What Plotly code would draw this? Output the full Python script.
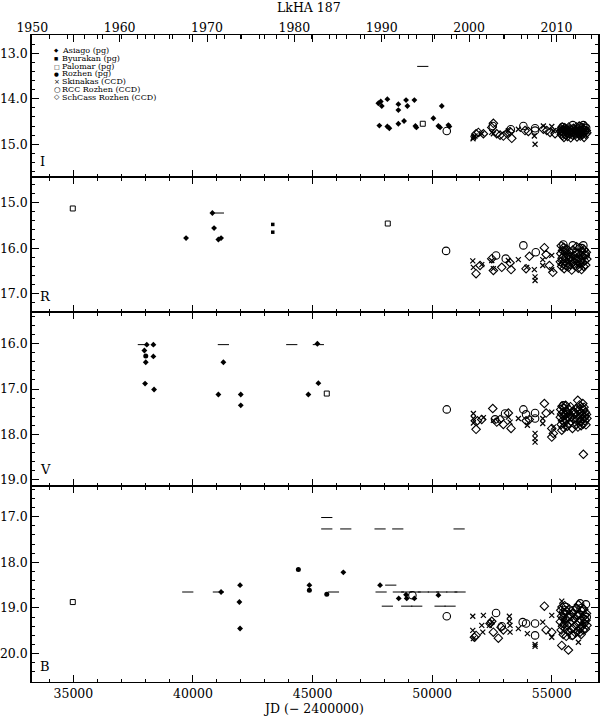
import plotly.graph_objects as go

# ---- data: (JD - 2400000, magnitude) ----

I_asiago = [(47752, 14.10), (47852, 14.06), (47894, 14.16), (48128, 14.01), (48588, 14.12),
            (48588, 14.25), (48910, 14.03), (48965, 14.16), (49258, 14.03), (50403, 14.16),
            (47794, 14.59), (48128, 14.61), (48212, 14.65), (48588, 14.55), (48826, 14.49),
            (49300, 14.60), (49342, 14.63), (50052, 14.43), (50261, 14.60), (50332, 14.63),
            (50679, 14.58), (50721, 14.61)]
I_palomar = [(49609, 14.55)]
I_skinakas = [(51724, 14.85), (51794, 14.82), (52075, 14.77), (52493, 14.74), (52560, 14.77),
              (53187, 14.70), (53605, 14.67), (54274, 14.82), (54304, 15.00), (54651, 14.60),
              (55002, 14.61), (55069, 14.70), (55420, 14.65), (55629, 14.69), (56047, 14.67),
              (56186, 14.80), (51710, 14.88), (51740, 14.84)]
I_rcc = [(50612, 14.71), (52535, 14.60), (53288, 14.67), (53815, 14.60), (54304, 14.65),
         (54304, 14.70), (55450, 14.62), (55560, 14.70), (55700, 14.66), (55880, 14.58),
         (56060, 14.72), (56186, 14.61), (56323, 14.58), (56394, 14.69), (56440, 14.64)]
I_schcass = [(51837, 14.77), (51934, 14.74), (52143, 14.77), (52493, 14.63), (52560, 14.54),
             (52702, 14.77), (52840, 14.80), (52978, 14.82), (53120, 14.76), (53258, 14.72),
             (53330, 14.87), (53885, 14.70), (54023, 14.72), (54651, 14.67), (54793, 14.70),
             (54931, 14.74), (55140, 14.77),
             (55362, 14.72), (55385, 14.66), (55401, 14.78), (55418, 14.70), (55436, 14.62),
             (55450, 14.81), (55468, 14.74), (55490, 14.68), (55512, 14.85), (55530, 14.76),
             (55547, 14.64), (55566, 14.71), (55589, 14.80), (55610, 14.67), (55634, 14.75),
             (55662, 14.83), (55690, 14.70), (55718, 14.62), (55745, 14.77), (55770, 14.72),
             (55795, 14.86), (55822, 14.68), (55850, 14.74), (55878, 14.80), (55905, 14.65),
             (55940, 14.73), (55978, 14.69), (56010, 14.78), (56035, 14.62), (56058, 14.84),
             (56082, 14.71), (56105, 14.66), (56128, 14.77), (56150, 14.60), (56172, 14.73),
             (56195, 14.82), (56218, 14.69), (56240, 14.76), (56262, 14.63), (56285, 14.79),
             (56306, 14.72), (56330, 14.67), (56352, 14.85), (56374, 14.74), (56398, 14.61),
             (56420, 14.78), (56445, 14.70), (56468, 14.75)]
I_limits = [(49609, 13.29)]

R_asiago = [(39712, 15.78), (40812, 15.23), (40883, 15.56), (41063, 15.81), (41175, 15.78)]
R_byurakan = [(43337, 15.48), (43337, 15.65)]
R_palomar = [(34975, 15.13), (48145, 15.46)]
R_skinakas = [(51699, 16.28), (51724, 16.42), (52075, 16.36), (52493, 16.27), (52560, 16.45),
              (53187, 16.27), (53605, 16.25), (53957, 16.42), (54274, 16.47), (54304, 16.63),
              (54304, 16.71), (54625, 16.25), (54625, 16.38), (55002, 16.16), (55002, 16.47),
              (55349, 16.32), (56115, 16.38)]
R_rcc = [(50583, 16.06), (52673, 16.16), (53078, 16.23), (53815, 15.94), (54333, 16.09),
         (55487, 15.92), (55550, 16.05), (55720, 16.20), (55880, 15.94), (56020, 16.10),
         (56250, 16.00), (56323, 15.94), (56420, 16.15)]
R_schcass = [(51837, 16.56), (52004, 16.38), (52493, 16.23), (52560, 16.49), (52911, 16.42),
             (53258, 16.32), (53300, 16.47), (53927, 16.45), (54065, 16.18), (54693, 15.99),
             (54765, 16.14), (54903, 16.38), (55045, 16.53),
             (55360, 16.30), (55380, 16.12), (55398, 15.95), (55415, 16.40), (55432, 16.22),
             (55450, 16.05), (55468, 16.35), (55485, 16.18), (55502, 15.98), (55520, 16.45),
             (55540, 16.28), (55560, 16.10), (55582, 16.38), (55605, 16.20), (55628, 16.02),
             (55650, 16.33), (55675, 16.15), (55700, 16.42), (55725, 16.25), (55752, 16.08),
             (55780, 16.36), (55808, 16.19), (55835, 16.48), (55860, 16.27), (55885, 16.04),
             (55910, 16.31), (55940, 16.16), (55975, 16.39), (56010, 16.23), (56040, 15.97),
             (56065, 16.29), (56090, 16.12), (56112, 16.44), (56135, 16.21), (56158, 15.99),
             (56180, 16.34), (56200, 16.14), (56222, 16.26), (56245, 16.47), (56268, 16.07),
             (56290, 16.32), (56312, 16.18), (56335, 16.40), (56356, 16.03), (56378, 16.28),
             (56400, 16.15), (56422, 16.37), (56445, 16.09), (56468, 16.24)]
R_limits = [(41063, 15.23)]

V_asiago = [(37969, 16.15), (38026, 16.41), (37998, 16.88), (38069, 16.02), (38345, 16.28),
            (38345, 16.02), (38374, 17.01), (41272, 16.41), (41063, 17.12), (41999, 17.12),
            (41999, 17.36), (45202, 16.00), (45243, 16.87), (44825, 17.12)]
V_rozhen = [(38026, 16.27)]
V_palomar = [(45595, 17.10)]
V_skinakas = [(51724, 17.54), (51724, 17.65), (51724, 17.75), (52143, 17.63), (52560, 17.69),
              (53187, 17.62), (53258, 17.73), (53605, 17.65), (53982, 17.80), (54304, 17.98),
              (54304, 18.09), (54304, 18.17), (54625, 17.65), (54625, 17.76), (55002, 17.51),
              (55069, 17.84), (56157, 17.76)]
V_rcc = [(50612, 17.45), (52631, 17.67), (53049, 17.54), (53815, 17.45), (53927, 17.56),
         (54304, 17.53), (54304, 17.65), (55487, 17.36), (55620, 17.55), (55760, 17.62),
         (55905, 17.51), (56256, 17.54), (56394, 17.60)]
V_schcass = [(51837, 17.89), (51892, 17.70), (52075, 17.67), (52535, 17.43), (52702, 17.73),
             (52840, 17.67), (52978, 17.78), (53187, 17.53), (53300, 17.87), (53927, 17.70),
             (54065, 17.67), (54693, 17.32), (54765, 17.53), (55002, 17.87), (55069, 17.98),
             (55002, 18.06), (55420, 17.91), (56090, 17.25), (56299, 17.32), (56353, 17.40),
             (56323, 18.44),
             (55360, 17.62), (55378, 17.45), (55395, 17.78), (55412, 17.55), (55430, 17.38),
             (55448, 17.70), (55465, 17.52), (55482, 17.85), (55500, 17.60), (55520, 17.42),
             (55540, 17.74), (55562, 17.58), (55585, 17.36), (55608, 17.68), (55630, 17.50),
             (55655, 17.82), (55680, 17.63), (55705, 17.44), (55730, 17.76), (55758, 17.56),
             (55785, 17.39), (55812, 17.72), (55840, 17.61), (55868, 17.87), (55895, 17.48),
             (55925, 17.66), (55960, 17.54), (55995, 17.80), (56025, 17.43), (56050, 17.69),
             (56072, 17.57), (56095, 17.84), (56118, 17.47), (56140, 17.64), (56162, 17.35),
             (56185, 17.73), (56208, 17.53), (56230, 17.81), (56252, 17.41), (56275, 17.67),
             (56298, 17.58), (56320, 17.77), (56342, 17.46), (56365, 17.62), (56388, 17.70),
             (56410, 17.51), (56432, 17.79), (56455, 17.56), (56475, 17.65)]
V_limits = [(37927, 16.02), (41272, 16.02), (44131, 16.02), (45243, 16.02)]

B_asiago = [(41175, 18.65), (41969, 18.50), (41941, 18.87), (41969, 19.45), (44867, 18.50),
            (46288, 18.22), (47823, 18.50), (48602, 18.79), (48910, 18.71), (48938, 18.79),
            (49258, 18.79), (50261, 18.72)]
B_rozhen = [(44407, 18.16), (44867, 18.61), (45595, 18.70)]
B_palomar = [(34975, 18.87)]
B_skinakas = [(51699, 19.18), (51699, 19.49), (51724, 19.67), (52143, 19.16), (52075, 19.38),
              (52117, 19.53), (52392, 19.38), (52493, 19.31), (53229, 19.18), (53229, 19.29),
              (53258, 19.38), (53258, 19.53), (53605, 19.45), (53982, 19.56), (54304, 19.80),
              (54304, 19.84), (54625, 19.31), (55002, 19.16), (55002, 19.64), (55420, 18.85),
              (55500, 19.25), (56115, 19.75), (56300, 19.35)]
B_rcc = [(49175, 18.72), (50612, 19.18), (52673, 19.11), (52911, 19.40), (53787, 19.31),
         (53927, 19.34), (54304, 19.34), (54304, 19.60), (55480, 19.10), (55560, 19.05),
         (55600, 18.98), (55750, 19.20), (55839, 19.60), (55900, 19.05), (56047, 19.01),
         (56100, 19.15), (56186, 18.90), (56250, 19.00), (56380, 19.25), (56430, 18.92),
         (56465, 19.20)]
B_schcass = [(51766, 19.64), (51837, 19.60), (52422, 19.34), (52493, 19.29), (52560, 19.53),
             (52769, 19.66), (52882, 19.42), (52978, 19.48), (54693, 18.96), (54765, 19.48),
             (55002, 19.53), (55420, 19.82), (55698, 19.92), (56186, 19.53),
             (55360, 19.30), (55378, 19.05), (55395, 19.48), (55412, 19.18), (55430, 18.98),
             (55448, 19.40), (55465, 19.22), (55482, 19.58), (55500, 19.12), (55520, 19.35),
             (55540, 18.95), (55562, 19.45), (55585, 19.25), (55608, 19.62), (55630, 19.08),
             (55655, 19.38), (55680, 19.20), (55705, 19.52), (55730, 19.02), (55758, 19.33),
             (55785, 19.15), (55812, 19.47), (55840, 19.28), (55868, 19.60), (55895, 19.10),
             (55925, 19.42), (55960, 19.24), (55995, 19.55), (56025, 19.00), (56050, 19.36),
             (56072, 19.17), (56095, 19.50), (56118, 18.93), (56140, 19.30), (56162, 19.13),
             (56185, 19.44), (56208, 19.26), (56230, 19.58), (56252, 19.06), (56275, 19.39),
             (56298, 19.21), (56320, 19.48), (56342, 19.03), (56365, 19.34), (56388, 19.16),
             (56410, 19.46), (56432, 19.27), (56455, 19.12), (56475, 19.38)]
B_limits = [(39783, 18.65), (41063, 18.65), (45874, 18.65), (45595, 17.02), (45595, 17.27),
            (46389, 17.27), (47823, 17.27), (48563, 17.27), (51128, 17.27), (48270, 18.50),
            (47866, 18.65), (48588, 18.65), (48938, 18.65), (49286, 18.65), (49633, 18.65),
            (50052, 18.65), (50403, 18.65), (50821, 18.65), (51168, 18.65), (48128, 18.96),
            (48938, 18.96), (49356, 18.96), (50332, 18.96), (50750, 18.96)]

bands = ["I", "R", "V", "B"]          # top to bottom
band_ranges = {"I": [15.72, 12.60], "R": [17.40, 14.44], "V": [19.14, 15.30], "B": [20.62, 16.33]}
legend_names = ["Asiago (pg)", "Byurakan (pg)", "Palomar (pg)", "Rozhen (pg)",
                "Skinakas (CCD)", "RCC Rozhen (CCD)", "SchCass Rozhen (CCD)"]

series = {
    "I": {"Asiago (pg)": I_asiago, "Palomar (pg)": I_palomar, "Skinakas (CCD)": I_skinakas,
          "RCC Rozhen (CCD)": I_rcc, "SchCass Rozhen (CCD)": I_schcass, "limit": I_limits},
    "R": {"Asiago (pg)": R_asiago, "Byurakan (pg)": R_byurakan, "Palomar (pg)": R_palomar,
          "Skinakas (CCD)": R_skinakas, "RCC Rozhen (CCD)": R_rcc,
          "SchCass Rozhen (CCD)": R_schcass, "limit": R_limits},
    "V": {"Asiago (pg)": V_asiago, "Rozhen (pg)": V_rozhen, "Palomar (pg)": V_palomar,
          "Skinakas (CCD)": V_skinakas, "RCC Rozhen (CCD)": V_rcc,
          "SchCass Rozhen (CCD)": V_schcass, "limit": V_limits},
    "B": {"Asiago (pg)": B_asiago, "Rozhen (pg)": B_rozhen, "Palomar (pg)": B_palomar,
          "Skinakas (CCD)": B_skinakas, "RCC Rozhen (CCD)": B_rcc,
          "SchCass Rozhen (CCD)": B_schcass, "limit": B_limits},
}

styles = {
    "Asiago (pg)": dict(symbol="diamond", size=4.5, color="black", line=dict(width=0)),
    "Byurakan (pg)": dict(symbol="square", size=3.5, color="black", line=dict(width=0)),
    "Palomar (pg)": dict(symbol="square-open", size=5, color="black", line=dict(width=1, color="black")),
    "Rozhen (pg)": dict(symbol="circle", size=5, color="black", line=dict(width=0)),
    "Skinakas (CCD)": dict(symbol="x-thin", size=5, color="black", line=dict(width=1.2, color="black")),
    "RCC Rozhen (CCD)": dict(symbol="circle-open", size=7.5, color="black", line=dict(width=1.1, color="black")),
    "SchCass Rozhen (CCD)": dict(symbol="diamond-open", size=6.5, color="black", line=dict(width=1.1, color="black")),
    "limit": dict(symbol="line-ew", size=8, color="black", line=dict(width=1, color="black")),
}

FONT = "DejaVu Serif"
X_RANGE = [33270, 56935]
JD_1950 = 33282.5
year_range = [1950 + (X_RANGE[0] - JD_1950) / 365.25, 1950 + (X_RANGE[1] - JD_1950) / 365.25]

# plot area in pixels: left 32, right 598, top 35, bottom 682
W, H = 600, 718
L, R, T, Bm = 32, 2, 35, 36
plot_h = H - T - Bm
plot_w = W - L - R
panel_px = {"I": (35, 177), "R": (177, 312), "V": (312, 486), "B": (486, 682)}


def px_y(py):
    return (H - Bm - py) / plot_h


def px_x(px):
    return (px - L) / plot_w


fig = go.Figure()

for k, band in enumerate(bands):
    ax = "" if k == 0 else str(k + 1)
    for name, pts in series[band].items():
        fig.add_trace(go.Scatter(
            x=[p[0] for p in pts], y=[p[1] for p in pts],
            mode="markers", name=name, showlegend=False,
            marker=styles[name], xaxis="x" + ax, yaxis="y" + ax,
        ))

# empty trace so the year axis on top is drawn
fig.add_trace(go.Scatter(x=[], y=[], xaxis="x5", yaxis="y", showlegend=False))

tickfont = dict(family=FONT, size=12.5, color="black")
layout = dict(
    width=W, height=H, paper_bgcolor="white", plot_bgcolor="white",
    margin=dict(l=L, r=R, t=T, b=Bm, autoexpand=False), showlegend=False,
    font=dict(family=FONT, color="black"),
)

for k, band in enumerate(bands):
    ax = "" if k == 0 else str(k + 1)
    top, bot = panel_px[band]
    layout["yaxis" + ax] = dict(
        domain=[px_y(bot), px_y(top)], range=band_ranges[band], anchor="x" + ax,
        showline=True, linecolor="black", linewidth=1.5, mirror="ticks",
        ticks="inside", ticklen=7, tickwidth=1, tickcolor="black",
        dtick=1, tick0=0, tickformat=".1f", tickfont=tickfont, automargin=False,
        minor=dict(dtick=0.2, ticks="inside", ticklen=3.5, tickcolor="black", tickwidth=1),
        showgrid=False, zeroline=False,
    )
    layout["xaxis" + ax] = dict(
        range=X_RANGE, anchor="y" + ax, domain=[0, 1],
        showline=True, linecolor="black", linewidth=1, mirror="ticks",
        ticks="inside", ticklen=7, tickwidth=1, tickcolor="black",
        dtick=5000, tick0=0, tickformat="d", tickfont=tickfont, automargin=False,
        minor=dict(dtick=1000, ticks="inside", ticklen=3.5, tickcolor="black", tickwidth=1),
        showgrid=False, zeroline=False, showticklabels=(band == "B"),
    )

layout["xaxis5"] = dict(
    range=year_range, overlaying="x", side="top", anchor="y", automargin=False,
    showline=False, ticks="inside", ticklen=7, tickwidth=1, tickcolor="black",
    dtick=10, tick0=1950, tickfont=tickfont,
    minor=dict(dtick=2, ticks="inside", ticklen=3.5, tickcolor="black", tickwidth=1),
    showgrid=False, zeroline=False,
)
fig.update_layout(**layout)

ann = []
# title and axis label
ann.append(dict(text="LkHA 187", x=px_x(309), y=px_y(7), xref="paper", yref="paper",
                yanchor="middle", showarrow=False, font=dict(family=FONT, size=12.5)))
ann.append(dict(text="JD (\u2212 2400000)", x=px_x(313), y=px_y(709), xref="paper", yref="paper",
                yanchor="middle", showarrow=False, font=dict(family=FONT, size=12.5)))
# band letters
letter_y = {"I": 161, "R": 296, "V": 469, "B": 666}
for band in bands:
    ann.append(dict(text=band, x=px_x(38), y=px_y(letter_y[band]), xref="paper", yref="paper",
                    xanchor="left", yanchor="middle", showarrow=False,
                    font=dict(family=FONT, size=13)))
# legend (key) in the I panel
glyphs = ["\u25c6", "\u25a0", "\u25a1", "\u25cf", "\u00d7", "\u25cb", "\u25c7"]
glyph_sizes = [5.5, 4.5, 6, 5.5, 7, 7.5, 7]
for i, (name, g) in enumerate(zip(legend_names, glyphs)):
    row_y = 50.5 + i * 7.8
    ann.append(dict(text=g, x=px_x(51.7), y=px_y(row_y), xref="paper", yref="paper",
                    yanchor="middle", showarrow=False,
                    font=dict(family="DejaVu Sans", size=glyph_sizes[i])))
    ann.append(dict(text=name, x=px_x(60), y=px_y(row_y), xref="paper", yref="paper",
                    xanchor="left", yanchor="middle", showarrow=False,
                    font=dict(family=FONT, size=8)))
fig.update_layout(annotations=ann)

# page without the default body margin so the figure fills the window
fig.write_html("out.html", config={"displayModeBar": False},
               post_script="document.body.style.margin='0';")
